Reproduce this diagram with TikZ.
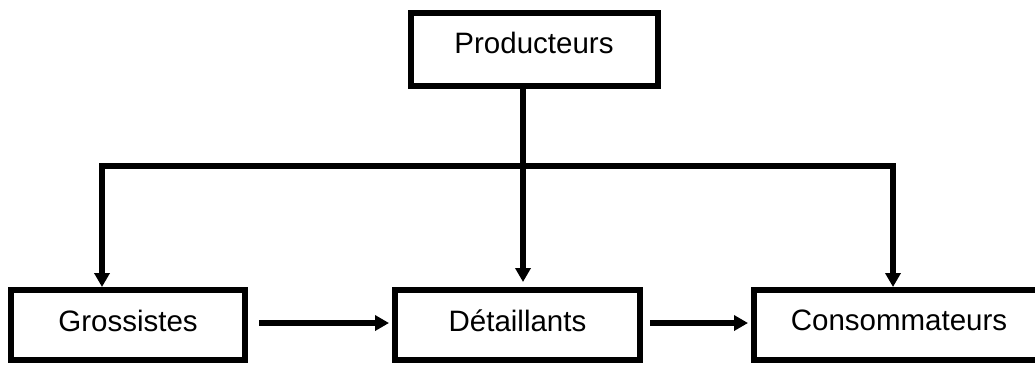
\documentclass[tikz,border=0pt]{standalone}
\usepackage{fontspec}
\setmainfont{Liberation Sans}
\usetikzlibrary{arrows.meta}
\begin{document}
\begin{tikzpicture}[x=1pt,y=-1pt,
  boxnode/.style={draw,line width=6pt,inner sep=0pt,font=\fontsize{29.5}{34}\selectfont,text depth=9pt},
  link/.style={line width=6pt,line join=miter},
  arr/.style={link,-{Triangle[length=14pt,width=15pt]}}]
\useasboundingbox (0,0) rectangle (1035,365);
\node[boxnode,minimum width=247pt,minimum height=73pt,text depth=13pt] (P) at (534,49) {Producteurs};
\node[boxnode,minimum width=234pt,minimum height=70pt] (G) at (128,325) {Grossistes};
\node[boxnode,minimum width=245pt,minimum height=70pt] (D) at (517.5,325) {Détaillants};
\node[boxnode,minimum width=290pt,minimum height=70pt] (C) at (899,325) {Consommateurs};
\coordinate (j) at (523,165.5);
\coordinate (gl) at (102,287);
\coordinate (cr) at (893,287);
\draw[arr] (j |- P.south) -- (523,282);
\draw[arr] (j) -| (gl);
\draw[arr] (j) -| (cr);
\draw[arr] ([xshift=11pt,yshift=2pt]G.east) -- ([xshift=-3pt,yshift=2pt]D.west);
\draw[arr] ([xshift=7pt,yshift=2pt]D.east) -- ([xshift=-3pt,yshift=2pt]C.west);
\end{tikzpicture}
\end{document}
